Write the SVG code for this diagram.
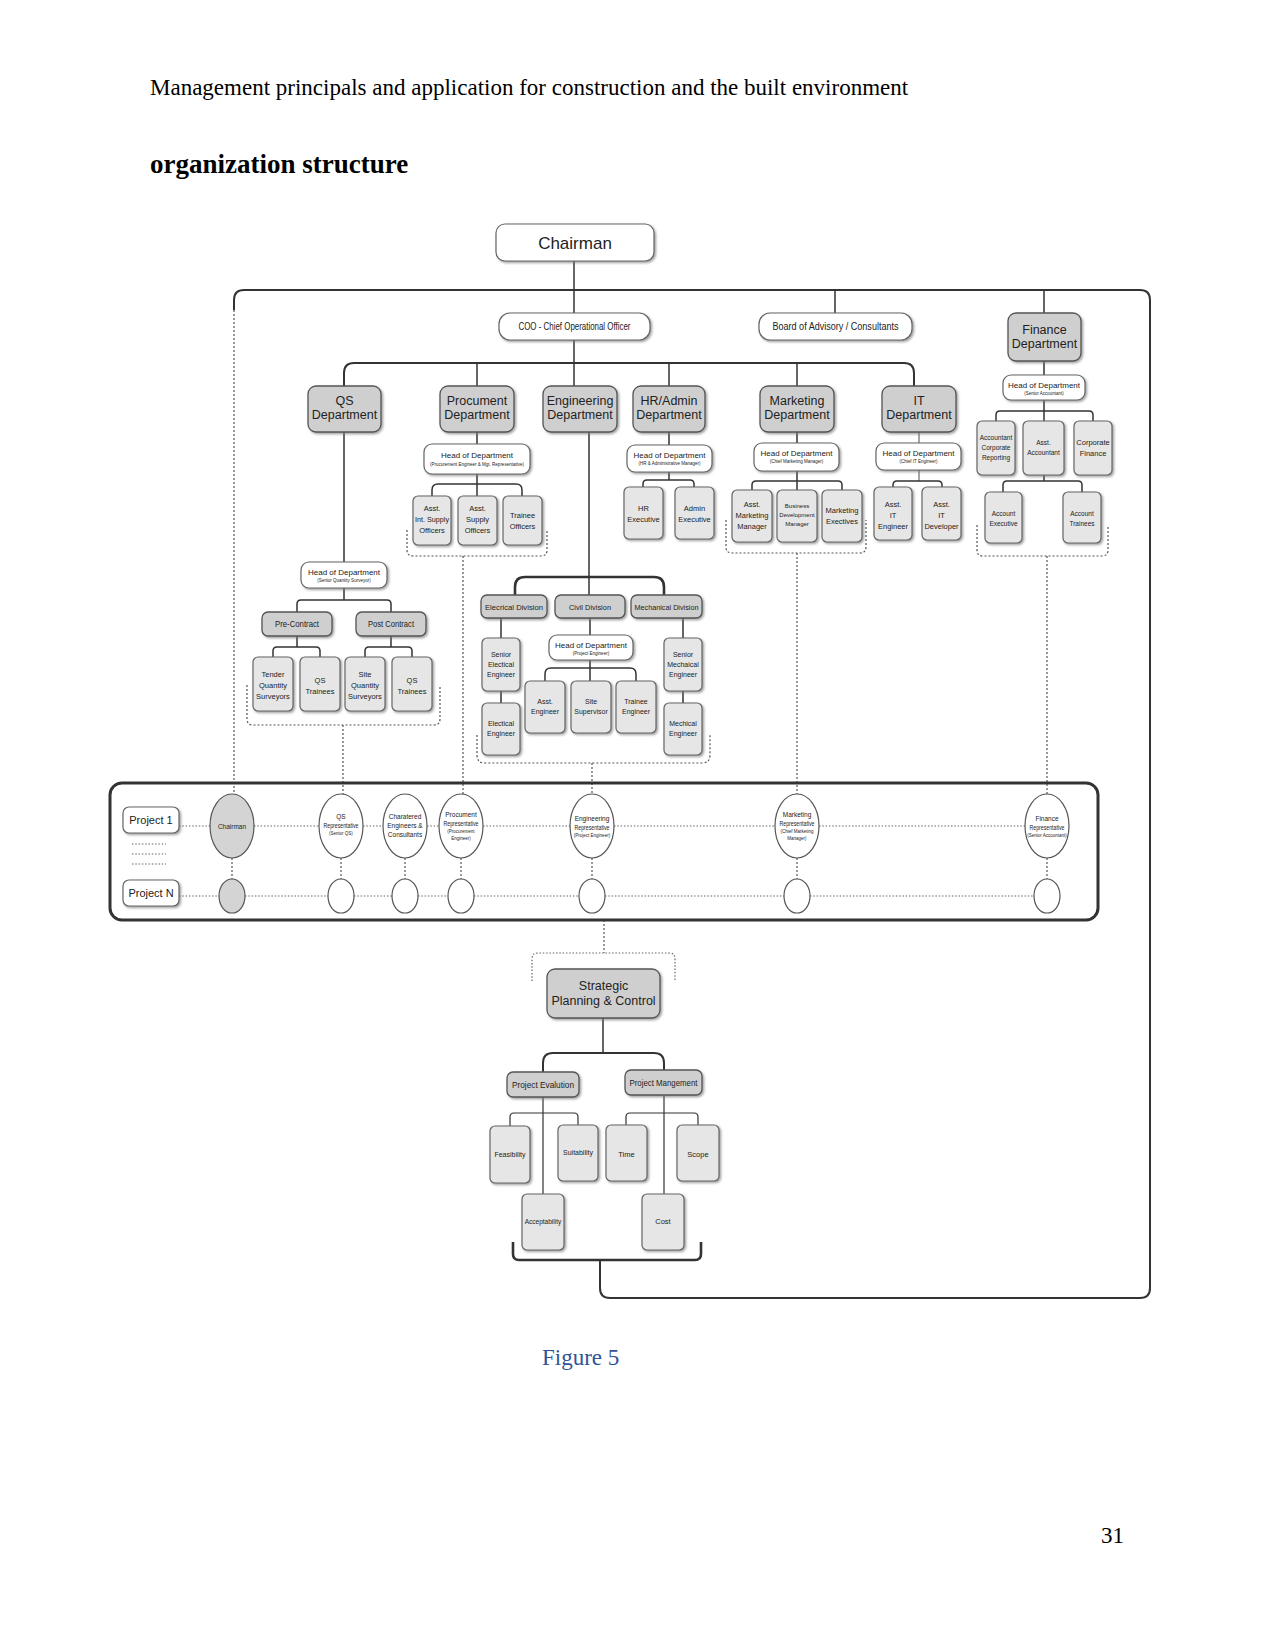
<svg xmlns="http://www.w3.org/2000/svg" width="1275" height="1651" viewBox="0 0 1275 1651">
<defs>
<filter id="sh" x="-20%" y="-20%" width="150%" height="150%"><feDropShadow dx="1.5" dy="1.5" stdDeviation="0.8" flood-color="#777" flood-opacity="0.7"/></filter>
</defs>
<style>
.pg{font-family:"Liberation Serif","Times New Roman",serif;fill:#000}
.t{font-family:"Liberation Sans Narrow","Liberation Sans",Arial,sans-serif;fill:#222;text-anchor:middle}
.g{fill:#cfcfcf;stroke:#555;stroke-width:1.3;filter:url(#sh)}
.w{fill:#fff;stroke:#666;stroke-width:1.2;filter:url(#sh)}
.l{fill:#e6e6e6;stroke:#666;stroke-width:1.2;filter:url(#sh)}
.ln{fill:none;stroke:#333;stroke-width:1.5}
.tk{fill:none;stroke:#333;stroke-width:2.6}
.ds{fill:none;stroke:#555;stroke-width:1.2;stroke-dasharray:2 2}
.dt{fill:none;stroke:#666;stroke-width:1.2;stroke-dasharray:1.5 1.8}
.ce{fill:#fff;stroke:#555;stroke-width:1.2}
.cg{fill:#d4d4d4;stroke:#555;stroke-width:1.2}
.s{font-size:4.5px}
.f8{font-size:8px}
.f7{font-size:7.5px}
.f9{font-size:9.5px}
.f12{font-size:12.5px}
.r{font-size:6.5px}
</style>
<rect width="1275" height="1651" fill="#fff"/>
<text class="pg" x="150" y="95" font-size="23">Management principals and application for construction and the built environment</text>
<text class="pg" x="150" y="173" font-size="27" font-weight="bold">organization structure</text>
<text class="pg" x="542" y="1365" font-size="23" style="fill:#2F5496">Figure 5</text>
<text class="pg" x="1101" y="1543" font-size="23">31</text>

<g id="connectors">
<path class="ln" d="M574 261 V386"/>
<path class="tk" d="M234 310 V300 Q234 290 244 290 H1140 Q1150 290 1150 300 V1288 Q1150 1298 1140 1298 H610 Q600 1298 600 1288 V1260" style="stroke-width:2"/>
<path class="ds" d="M234 310 V794"/>
<path class="ln" d="M835 290 V313 M1044 290 V313"/>
<path class="tk" d="M344 386 V373 Q344 363 354 363 H904 Q914 363 914 373 V386" style="stroke-width:2"/>
<path class="ln" d="M477 363 V386 M669 363 V386 M797 363 V386"/>
<path class="ln" d="M589 432 V577"/>
<path class="tk" d="M515 595 V587 Q515 577 525 577 H654 Q664 577 664 587 V595"/>
<path class="ln" d="M589 577 V595"/>
<path class="ln" d="M501 618 V638 M501 691 V703 M683 618 V638 M683 691 V703 M590 618 V635 M590 660 V681"/>
<path class="ln" d="M545 681 V674 Q545 668 551 668 H630 Q636 668 636 674 V681"/>
<path class="ds" d="M477 735 V755 Q477 763 485 763 H702 Q710 763 710 755 V735 M592 763 V794"/>
<path class="ln" d="M477 432 V444 M477 474 V496"/>
<path class="ln" d="M432 496 V490 Q432 484 438 484 H516 Q522 484 522 490 V496"/>
<path class="ds" d="M407 530 V550 Q407 556 413 556 H541 Q547 556 547 550 V530 M463 556 V794"/>
<path class="ln" d="M669 432 V445 M669 472 V480"/>
<path class="ln" d="M643 487 V484 Q643 480 647 480 H690 Q694 480 694 484 V487"/>
<path class="ln" d="M797 432 V443 M797 471 V490"/>
<path class="ln" d="M752 490 V485 Q752 481 756 481 H838 Q842 481 842 485 V490"/>
<path class="ds" d="M726 520 V547 Q726 553 732 553 H860 Q866 553 866 547 V520 M797 553 V794"/>
<path class="ln" d="M919 432 V443 M919 470 V481" style="stroke:#888"/>
<path class="ln" d="M893 487 V485 Q893 481 897 481 H938 Q942 481 942 485 V487"/>
<path class="ln" d="M1044 361 V375 M1044 400 V421 M1044 475 V481"/>
<path class="ln" d="M996 421 V415 Q996 411 1000 411 H1089 Q1093 411 1093 415 V421"/>
<path class="ln" d="M1003 492 V485 Q1003 481 1007 481 H1078 Q1082 481 1082 485 V492"/>
<path class="ds" d="M977 525 V550 Q977 556 983 556 H1102 Q1108 556 1108 550 V525 M1047 556 V794"/>
<path class="ln" d="M344 432 V562 M344 588 V600"/>
<path class="ln" d="M297 612 V604 Q297 600 301 600 H387 Q391 600 391 604 V612"/>
<path class="ln" d="M297 636 V647 M391 636 V647"/>
<path class="ln" d="M273 657 V651 Q273 647 277 647 H316 Q320 647 320 651 V657"/>
<path class="ln" d="M365 657 V651 Q365 647 369 647 H408 Q412 647 412 651 V657"/>
<path class="ds" d="M247 685 V719 Q247 725 253 725 H434 Q440 725 440 719 V685 M343 725 V794"/>
<path class="dt" d="M132 844 H166 M132 854 H166 M132 864 H166"/>
<path class="dt" d="M179 826 H210 M254 826 H319 M363 826 H383 M427 826 H439 M483 826 H570 M614 826 H775 M819 826 H1025"/>
<path class="dt" d="M179 896 H219 M245 896 H328 M354 896 H392 M418 896 H448 M474 896 H579 M605 896 H784 M810 896 H1034"/>
<path class="ds" d="M232 858 V879 M341 858 V879 M405 858 V879 M461 858 V879 M592 858 V879 M797 858 V879 M1047 858 V879"/>
<path class="ds" d="M604 920 V953"/>
<path class="dt" d="M532 981 V959 Q532 953 538 953 H669 Q675 953 675 959 V981"/>
<path class="ln" d="M603 1018 V1053"/>
<path class="tk" d="M543 1072 V1063 Q543 1053 553 1053 H654 Q664 1053 664 1063 V1070" style="stroke-width:2"/>
<path class="ln" d="M543 1097 V1194 M664 1095 V1194" style="stroke-width:1.2"/>
<path class="ln" d="M510 1126 V1117 Q510 1113 514 1113 H574 Q578 1113 578 1117 V1125" style="stroke-width:1.2"/>
<path class="ln" d="M626 1125 V1117 Q626 1113 630 1113 H694 Q698 1113 698 1117 V1125" style="stroke-width:1.2"/>
<path class="tk" d="M513 1242 V1254 Q513 1260 519 1260 H695 Q701 1260 701 1254 V1242"/>
</g>

<g id="chairman"><rect class="w" x="496" y="224" width="158" height="37" rx="9"/><text class="t" x="575" y="249" font-size="17">Chairman</text></g>
<g id="coo"><rect class="w" x="499" y="313" width="151" height="27" rx="11"/><text class="t" x="574.5" y="330" font-size="10.5" textLength="112" lengthAdjust="spacingAndGlyphs">COO - Chief Operational Officer</text></g>
<g id="board"><rect class="w" x="759" y="313" width="153" height="27" rx="11"/><text class="t" x="835.5" y="330" font-size="10.5" textLength="126" lengthAdjust="spacingAndGlyphs">Board of Advisory / Consultants</text></g>
<g id="finance"><rect class="g" x="1008" y="313" width="73" height="48" rx="8"/><text class="t f12" x="1044.5" y="334">Finance</text><text class="t f12" x="1044.5" y="348">Department</text></g>

<g id="qs"><rect class="g" x="308" y="386" width="73" height="46" rx="8"/><text class="t f12" x="344.5" y="405">QS</text><text class="t f12" x="344.5" y="419">Department</text></g>
<g id="procurement"><rect class="g" x="440" y="386" width="74" height="46" rx="8"/><text class="t f12" x="477" y="405">Procument</text><text class="t f12" x="477" y="419">Department</text></g>
<g id="engineering"><rect class="g" x="543" y="386" width="74" height="46" rx="8"/><text class="t f12" x="580" y="405">Engineering</text><text class="t f12" x="580" y="419">Department</text></g>
<g id="hr"><rect class="g" x="633" y="386" width="72" height="46" rx="8"/><text class="t f12" x="669" y="405">HR/Admin</text><text class="t f12" x="669" y="419">Department</text></g>
<g id="marketing"><rect class="g" x="760" y="386" width="74" height="46" rx="8"/><text class="t f12" x="797" y="405">Marketing</text><text class="t f12" x="797" y="419">Department</text></g>
<g id="it"><rect class="g" x="882" y="386" width="74" height="46" rx="8"/><text class="t f12" x="919" y="405">IT</text><text class="t f12" x="919" y="419">Department</text></g>

<g id="proc-head"><rect class="w" x="424" y="444" width="106" height="30" rx="8"/><text class="t f8" x="477" y="458">Head of Department</text><text class="t s" x="477" y="466">(Procurement Engineer &amp; Mgt. Representative)</text></g>
<g id="proc-1"><rect class="l" x="413" y="496" width="38" height="49" rx="5"/><text class="t f7" x="432" y="511">Asst.</text><text class="t f7" x="432" y="522" textLength="34" lengthAdjust="spacingAndGlyphs">Int. Supply</text><text class="t f7" x="432" y="533">Officers</text></g>
<g id="proc-2"><rect class="l" x="458" y="496" width="39" height="49" rx="5"/><text class="t f7" x="477.5" y="511">Asst.</text><text class="t f7" x="477.5" y="522">Supply</text><text class="t f7" x="477.5" y="533">Officers</text></g>
<g id="proc-3"><rect class="l" x="503" y="496" width="39" height="49" rx="5"/><text class="t f7" x="522.5" y="518">Trainee</text><text class="t f7" x="522.5" y="529">Officers</text></g>

<g id="hr-head"><rect class="w" x="627" y="445" width="85" height="27" rx="8"/><text class="t f8" x="669.5" y="458">Head of Department</text><text class="t s" x="669.5" y="465">(HR &amp; Administrative Manager)</text></g>
<g id="hr-1"><rect class="l" x="624" y="487" width="39" height="52" rx="5"/><text class="t f7" x="643.5" y="511">HR</text><text class="t f7" x="643.5" y="522">Executive</text></g>
<g id="hr-2"><rect class="l" x="675" y="487" width="39" height="52" rx="5"/><text class="t f7" x="694.5" y="511">Admin</text><text class="t f7" x="694.5" y="522">Executive</text></g>

<g id="mkt-head"><rect class="w" x="754" y="443" width="85" height="28" rx="8"/><text class="t f8" x="796.5" y="456">Head of Department</text><text class="t s" x="796.5" y="463">(Chief Marketing Manager)</text></g>
<g id="mkt-1"><rect class="l" x="732" y="490" width="40" height="52" rx="5"/><text class="t f7" x="752" y="507">Asst.</text><text class="t f7" x="752" y="518">Marketing</text><text class="t f7" x="752" y="529">Manager</text></g>
<g id="mkt-2"><rect class="l" x="777" y="490" width="40" height="52" rx="5"/><text class="t" font-size="6" x="797" y="508">Business</text><text class="t" font-size="6" x="797" y="517">Development</text><text class="t" font-size="6" x="797" y="526">Manager</text></g>
<g id="mkt-3"><rect class="l" x="822" y="490" width="40" height="52" rx="5"/><text class="t f7" x="842" y="513">Marketing</text><text class="t f7" x="842" y="524">Exectives</text></g>

<g id="it-head"><rect class="w" x="876" y="443" width="85" height="27" rx="8"/><text class="t f8" x="918.5" y="456">Head of Department</text><text class="t s" x="918.5" y="463">(Chief IT Engineer)</text></g>
<g id="it-1"><rect class="l" x="874" y="487" width="38" height="53" rx="5"/><text class="t f7" x="893" y="507">Asst.</text><text class="t f7" x="893" y="518">IT</text><text class="t f7" x="893" y="529">Engineer</text></g>
<g id="it-2"><rect class="l" x="922" y="487" width="39" height="53" rx="5"/><text class="t f7" x="941.5" y="507">Asst.</text><text class="t f7" x="941.5" y="518">IT</text><text class="t f7" x="941.5" y="529">Developer</text></g>

<g id="fin-head"><rect class="w" x="1003" y="375" width="82" height="25" rx="8"/><text class="t f8" x="1044" y="388">Head of Department</text><text class="t s" x="1044" y="395">(Senior Accountant)</text></g>
<g id="fin-1"><rect class="l" x="977" y="421" width="38" height="54" rx="5"/><text class="t" font-size="6.5" x="996" y="440">Accountant</text><text class="t" font-size="6.5" x="996" y="450">Corporate</text><text class="t" font-size="6.5" x="996" y="460">Reporting</text></g>
<g id="fin-2"><rect class="l" x="1023" y="421" width="41" height="54" rx="5"/><text class="t" font-size="6.5" x="1043.5" y="445">Asst.</text><text class="t" font-size="6.5" x="1043.5" y="455">Accountant</text></g>
<g id="fin-3"><rect class="l" x="1074" y="421" width="38" height="54" rx="5"/><text class="t f7" x="1093" y="445">Corporate</text><text class="t f7" x="1093" y="456">Finance</text></g>
<g id="fin-4"><rect class="l" x="985" y="492" width="37" height="51" rx="5"/><text class="t" font-size="6.5" x="1003.5" y="516">Account</text><text class="t" font-size="6.5" x="1003.5" y="526">Executive</text></g>
<g id="fin-5"><rect class="l" x="1063" y="492" width="38" height="51" rx="5"/><text class="t" font-size="6.5" x="1082" y="516">Account</text><text class="t" font-size="6.5" x="1082" y="526">Trainees</text></g>

<g id="qs-head"><rect class="w" x="301" y="562" width="86" height="26" rx="8"/><text class="t f8" x="344" y="575">Head of Department</text><text class="t s" x="344" y="582">(Senior Quantity Surveyor)</text></g>
<g id="pre"><rect class="g" x="262" y="612" width="70" height="24" rx="6"/><text class="t f9" x="297" y="627" textLength="44" lengthAdjust="spacingAndGlyphs">Pre-Contract</text></g>
<g id="post"><rect class="g" x="356" y="612" width="70" height="24" rx="6"/><text class="t f9" x="391" y="627" textLength="46" lengthAdjust="spacingAndGlyphs">Post Contract</text></g>
<g id="qs-1"><rect class="l" x="253" y="657" width="40" height="54" rx="5"/><text class="t f7" x="273" y="677">Tender</text><text class="t f7" x="273" y="688">Quantity</text><text class="t f7" x="273" y="699">Surveyors</text></g>
<g id="qs-2"><rect class="l" x="300" y="657" width="40" height="54" rx="5"/><text class="t f7" x="320" y="683">QS</text><text class="t f7" x="320" y="694">Trainees</text></g>
<g id="qs-3"><rect class="l" x="345" y="657" width="40" height="54" rx="5"/><text class="t f7" x="365" y="677">Site</text><text class="t f7" x="365" y="688">Quantity</text><text class="t f7" x="365" y="699">Surveyors</text></g>
<g id="qs-4"><rect class="l" x="392" y="657" width="40" height="54" rx="5"/><text class="t f7" x="412" y="683">QS</text><text class="t f7" x="412" y="694">Trainees</text></g>

<g id="elec"><rect class="g" x="481" y="595" width="66" height="23" rx="6"/><text class="t f8" x="514" y="610" textLength="58" lengthAdjust="spacingAndGlyphs">Elecrical Division</text></g>
<g id="civil"><rect class="g" x="555" y="595" width="70" height="23" rx="6"/><text class="t f8" x="590" y="610" textLength="42" lengthAdjust="spacingAndGlyphs">Civil Division</text></g>
<g id="mech"><rect class="g" x="631" y="595" width="71" height="23" rx="6"/><text class="t f8" x="666.5" y="610" textLength="64" lengthAdjust="spacingAndGlyphs">Mechanical Division</text></g>
<g id="elec-1"><rect class="l" x="482" y="638" width="38" height="53" rx="5"/><text class="t" font-size="7" x="501" y="657">Senior</text><text class="t" font-size="7" x="501" y="667">Electical</text><text class="t" font-size="7" x="501" y="677">Engineer</text></g>
<g id="elec-2"><rect class="l" x="482" y="703" width="38" height="52" rx="5"/><text class="t" font-size="7" x="501" y="726">Electical</text><text class="t" font-size="7" x="501" y="736">Engineer</text></g>
<g id="mech-1"><rect class="l" x="664" y="638" width="38" height="53" rx="5"/><text class="t" font-size="7" x="683" y="657">Senior</text><text class="t" font-size="7" x="683" y="667">Mechaical</text><text class="t" font-size="7" x="683" y="677">Engineer</text></g>
<g id="mech-2"><rect class="l" x="664" y="703" width="38" height="52" rx="5"/><text class="t" font-size="7" x="683" y="726">Mechical</text><text class="t" font-size="7" x="683" y="736">Engineer</text></g>
<g id="civil-head"><rect class="w" x="549" y="635" width="84" height="25" rx="8"/><text class="t f8" x="591" y="648">Head of Department</text><text class="t s" x="591" y="655">(Project Engineer)</text></g>
<g id="civil-1"><rect class="l" x="525" y="681" width="40" height="52" rx="5"/><text class="t" font-size="7" x="545" y="704">Asst.</text><text class="t" font-size="7" x="545" y="714">Engineer</text></g>
<g id="civil-2"><rect class="l" x="571" y="681" width="40" height="52" rx="5"/><text class="t" font-size="7" x="591" y="704">Site</text><text class="t" font-size="7" x="591" y="714">Supervisor</text></g>
<g id="civil-3"><rect class="l" x="616" y="681" width="40" height="52" rx="5"/><text class="t" font-size="7" x="636" y="704">Trainee</text><text class="t" font-size="7" x="636" y="714">Engineer</text></g>

<g id="projects">
<rect x="110" y="783" width="988" height="137" rx="12" fill="none" stroke="#333" stroke-width="3"/>
<g id="project-1"><rect class="w" x="123" y="807" width="56" height="26" rx="6"/><text class="t" font-size="11" x="151" y="824">Project 1</text></g>
<g id="project-n"><rect class="w" x="123" y="880" width="56" height="26" rx="6"/><text class="t" font-size="11" x="151" y="897">Project N</text></g>
<g id="rep-chairman"><ellipse class="cg" cx="232" cy="826" rx="22" ry="32"/><text class="t" font-size="6.5" x="232" y="829">Chairman</text></g>
<g id="rep-qs"><ellipse class="ce" cx="341" cy="826" rx="22" ry="32"/><text class="t r" x="341" y="819">QS</text><text class="t r" x="341" y="828" textLength="35" lengthAdjust="spacingAndGlyphs">Representative</text><text class="t s" x="341" y="835">(Senior QS)</text></g>
<g id="rep-char"><ellipse class="ce" cx="405" cy="826" rx="22" ry="32"/><text class="t r" x="405" y="819">Charatered</text><text class="t r" x="405" y="828">Engineers &amp;</text><text class="t r" x="405" y="837">Consultants</text></g>
<g id="rep-proc"><ellipse class="ce" cx="461" cy="826" rx="22" ry="32"/><text class="t r" x="461" y="817">Procument</text><text class="t r" x="461" y="826" textLength="35" lengthAdjust="spacingAndGlyphs">Representative</text><text class="t s" x="461" y="833">(Procurement</text><text class="t s" x="461" y="840">Engineer)</text></g>
<g id="rep-eng"><ellipse class="ce" cx="592" cy="826" rx="22" ry="32"/><text class="t r" x="592" y="821">Engineering</text><text class="t r" x="592" y="830" textLength="35" lengthAdjust="spacingAndGlyphs">Representative</text><text class="t s" x="592" y="837">(Project Engineer)</text></g>
<g id="rep-mkt"><ellipse class="ce" cx="797" cy="826" rx="22" ry="32"/><text class="t r" x="797" y="817">Marketing</text><text class="t r" x="797" y="826" textLength="35" lengthAdjust="spacingAndGlyphs">Representative</text><text class="t s" x="797" y="833">(Chief Marketing</text><text class="t s" x="797" y="840">Manager)</text></g>
<g id="rep-fin"><ellipse class="ce" cx="1047" cy="826" rx="22" ry="32"/><text class="t r" x="1047" y="821">Finance</text><text class="t r" x="1047" y="830" textLength="35" lengthAdjust="spacingAndGlyphs">Representative</text><text class="t s" x="1047" y="837">(Senior Accountant)</text></g>
<ellipse class="cg" cx="232" cy="896" rx="13" ry="17"/>
<ellipse class="ce" cx="341" cy="896" rx="13" ry="17"/>
<ellipse class="ce" cx="405" cy="896" rx="13" ry="17"/>
<ellipse class="ce" cx="461" cy="896" rx="13" ry="17"/>
<ellipse class="ce" cx="592" cy="896" rx="13" ry="17"/>
<ellipse class="ce" cx="797" cy="896" rx="13" ry="17"/>
<ellipse class="ce" cx="1047" cy="896" rx="13" ry="17"/>
</g>

<g id="strategic"><rect class="g" x="547" y="969" width="113" height="49" rx="8"/><text class="t f12" x="603.5" y="990">Strategic</text><text class="t f12" x="603.5" y="1005">Planning &amp; Control</text></g>
<g id="evaluation"><rect class="g" x="507" y="1072" width="72" height="25" rx="6"/><text class="t f9" x="543" y="1088" textLength="62" lengthAdjust="spacingAndGlyphs">Project Evalution</text></g>
<g id="management"><rect class="g" x="625" y="1070" width="77" height="25" rx="6"/><text class="t f9" x="663.5" y="1086" textLength="68" lengthAdjust="spacingAndGlyphs">Project Mangement</text></g>
<g id="feasibility"><rect class="l" x="490" y="1126" width="40" height="57" rx="5"/><text class="t" font-size="7" x="510" y="1157">Feasibility</text></g>
<g id="suitability"><rect class="l" x="558" y="1125" width="40" height="56" rx="5"/><text class="t" font-size="7" x="578" y="1155">Suitability</text></g>
<g id="acceptability"><rect class="l" x="522" y="1194" width="42" height="56" rx="5"/><text class="t" font-size="6.5" x="543" y="1224">Acceptability</text></g>
<g id="time"><rect class="l" x="606" y="1125" width="41" height="56" rx="5"/><text class="t" font-size="7.5" x="626.5" y="1157">Time</text></g>
<g id="scope"><rect class="l" x="677" y="1125" width="42" height="56" rx="5"/><text class="t" font-size="7.5" x="698" y="1157">Scope</text></g>
<g id="cost"><rect class="l" x="642" y="1194" width="42" height="56" rx="5"/><text class="t" font-size="7.5" x="663" y="1224">Cost</text></g>
</svg>
